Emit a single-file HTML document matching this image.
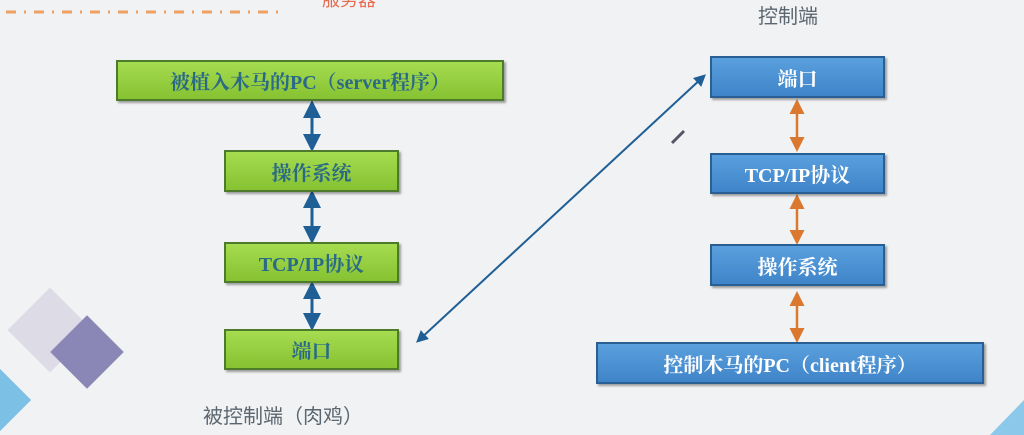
<!DOCTYPE html>
<html><head><meta charset="utf-8"><style>
body{margin:0;width:1024px;height:435px;overflow:hidden;background:#f1f2f3;font-family:"Liberation Serif","Noto Serif CJK SC",serif;position:relative}
.b{position:absolute;box-sizing:border-box;display:flex;align-items:center;justify-content:center;font-size:20px;font-weight:bold;border:2px solid;box-shadow:2px 2px 2px rgba(0,0,0,.35)}
.g{background:linear-gradient(#a6dc50,#86c232);border-color:#4e7a2c;color:#2a6a86}
.u{background:linear-gradient(#5aa0de,#3f84c8);border-color:#2a5f94;color:#fff}
.t{position:absolute;font-family:"Liberation Sans","Noto Sans CJK SC",sans-serif;color:#5a6670;font-size:20px}
</style></head><body>
<svg width="1024" height="435" style="position:absolute;left:0;top:0">
<defs>
<marker id="ab" markerWidth="6" markerHeight="6" refX="4" refY="3" orient="auto-start-reverse" markerUnits="strokeWidth"><path d="M0,0L6,3L0,6z" fill="#1f5f96"/></marker>
<marker id="ao" markerWidth="6" markerHeight="6" refX="4" refY="3" orient="auto-start-reverse" markerUnits="strokeWidth"><path d="M0,0L6,3L0,6z" fill="#d9782e"/></marker>
</defs>
<line x1="6" y1="12" x2="285" y2="12" stroke="#f0a060" stroke-width="3" stroke-dasharray="10,8,2,8"/>
<g transform="translate(50,330) rotate(45)"><rect x="-30" y="-30" width="60" height="60" fill="#dcdbe6"/></g>
<g transform="translate(87,352) rotate(45)"><rect x="-26" y="-26" width="52" height="52" fill="#8a86b6"/></g>
<g transform="translate(0,400) rotate(45)"><rect x="-22" y="-22" width="44" height="44" fill="#7cc0e6"/></g>
<path d="M1024,400 L1024,435 L990,435z" fill="#8cc8ea"/>
<g stroke="#1f5f96" stroke-width="3">
<line x1="312" y1="106" x2="312" y2="146" marker-start="url(#ab)" marker-end="url(#ab)"/>
<line x1="312" y1="196" x2="312" y2="238" marker-start="url(#ab)" marker-end="url(#ab)"/>
<line x1="312" y1="287" x2="312" y2="325" marker-start="url(#ab)" marker-end="url(#ab)"/>
</g>
<line x1="419" y1="340" x2="703" y2="77" stroke="#1f5f96" stroke-width="2" marker-start="url(#ab)" marker-end="url(#ab)"/>
<line x1="672" y1="143" x2="684" y2="131" stroke="#556" stroke-width="3"/>
<g stroke="#d9782e" stroke-width="2.5">
<line x1="797" y1="104" x2="797" y2="147" marker-start="url(#ao)" marker-end="url(#ao)"/>
<line x1="797" y1="199" x2="797" y2="240" marker-start="url(#ao)" marker-end="url(#ao)"/>
<line x1="797" y1="296" x2="797" y2="338" marker-start="url(#ao)" marker-end="url(#ao)"/>
</g>
</svg>
<div class="t" style="left:322px;top:-14px;color:#e86a50;font-size:18px">服务器</div>
<div class="b g" style="left:116px;top:60px;width:388px;height:41px">被植入木马的PC（server程序）</div>
<div class="b g" style="left:224px;top:150px;width:175px;height:42px">操作系统</div>
<div class="b g" style="left:224px;top:242px;width:175px;height:41px">TCP/IP协议</div>
<div class="b g" style="left:224px;top:329px;width:175px;height:41px">端口</div>
<div class="t" style="left:203px;top:400px">被控制端（肉鸡）</div>
<div class="t" style="left:758px;top:0px">控制端</div>
<div class="b u" style="left:710px;top:56px;width:175px;height:42px">端口</div>
<div class="b u" style="left:710px;top:153px;width:175px;height:41px">TCP/IP协议</div>
<div class="b u" style="left:710px;top:244px;width:175px;height:42px">操作系统</div>
<div class="b u" style="left:596px;top:342px;width:388px;height:42px">控制木马的PC（client程序）</div>
</body></html>
